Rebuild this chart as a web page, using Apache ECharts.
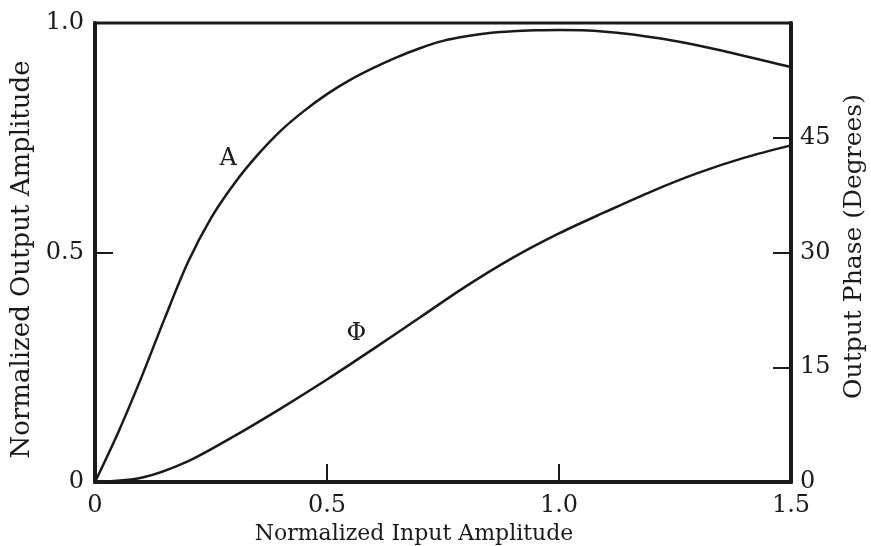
<!DOCTYPE html>
<html>
<head>
<meta charset="utf-8">
<script src="https://cdn.jsdelivr.net/npm/echarts@6/dist/echarts.min.js"></script>
<style>
  html, body { margin: 0; padding: 0; background: #fff; }
  #chart { width: 871px; height: 546px; }
</style>
</head>
<body>
<div id="chart"></div>
<script>
// values
var ampX = [0, 0.05, 0.1, 0.15, 0.2, 0.25, 0.3, 0.35, 0.4, 0.45, 0.5, 0.55, 0.6, 0.65, 0.7, 0.75,
            0.8, 0.85, 0.9, 0.95, 1.0, 1.05, 1.1, 1.15, 1.2, 1.25, 1.3, 1.35, 1.4, 1.45, 1.5];
var ampY = [0, 0.108, 0.228, 0.356, 0.478, 0.575, 0.65, 0.712, 0.765, 0.808, 0.845, 0.876, 0.902, 0.925, 0.945, 0.961,
            0.971, 0.978, 0.982, 0.984, 0.985, 0.984, 0.981, 0.976, 0.969, 0.961, 0.951, 0.94, 0.928, 0.916, 0.904];

var phaseX = [0, 0.1, 0.2, 0.3, 0.4, 0.5, 0.6, 0.7, 0.8, 0.9, 1.0, 1.1, 1.2, 1.3, 1.4, 1.5];
var phaseY = [0, 0.55, 2.7, 6.0, 9.6, 13.4, 17.4, 21.5, 25.6, 29.3, 32.5, 35.3, 38.0, 40.4, 42.4, 44.0];

// curve labels: [x, y]
var labelA = [0.287, 0.704];
var labelPhi = [0.563, 19.4];

var ink = '#1a1a1a';
var serif = 'DejaVu Serif';

function pairs(xs, ys) {
    var out = [];
    for (let i = 0; i < xs.length; i++) {
        out.push([xs[i], ys[i]]);
    }
    return out;
}

function tag(coord, text) {
    return {
        symbol: 'circle',
        symbolSize: 1,
        itemStyle: { color: 'rgba(0,0,0,0)' },
        label: { show: true, position: 'inside', formatter: text, color: ink, fontFamily: serif, fontSize: 24 },
        data: [{ coord: coord }]
    };
}

var chart = echarts.init(document.getElementById('chart'));

var option = {
    animation: false,
    backgroundColor: '#fff',
    grid: {
        left: 95, right: 80, top: 23, bottom: 64,
        outerBoundsMode: 'none',
        containLabel: false,
        show: true, borderColor: ink, borderWidth: 3
    },
    xAxis: {
        type: 'value',
        min: 0, max: 1.5, interval: 0.5,
        name: 'Normalized Input Amplitude',
        nameLocation: 'middle',
        nameGap: 33,
        nameTextStyle: { color: ink, fontFamily: serif, fontSize: 22, padding: [0, 58, 0, 0] },
        axisLine: { lineStyle: { color: ink, width: 4 } },
        axisTick: { inside: true, length: 18, lineStyle: { color: ink, width: 2 } },
        axisLabel: {
            color: ink, fontFamily: serif, fontSize: 24, margin: 12,
            formatter: function (v) { return v === 0 ? '0' : v.toFixed(1); }
        },
        splitLine: { show: false }
    },
    yAxis: [{
        type: 'value',
        min: 0, max: 1, interval: 0.5,
        name: 'Normalized Output Amplitude',
        nameLocation: 'middle',
        nameGap: 58,
        nameTextStyle: { color: ink, fontFamily: serif, fontSize: 26, padding: [0, 14, 0, 0] },
        axisLine: { show: true, lineStyle: { color: ink, width: 4 } },
        axisTick: { show: true, inside: true, length: 18, lineStyle: { color: ink, width: 2 } },
        axisLabel: {
            color: ink, fontFamily: serif, fontSize: 24, margin: 11,
            formatter: function (v) { return v === 0 ? '0' : v.toFixed(1); }
        },
        splitLine: { show: false }
    }, {
        type: 'value',
        position: 'right',
        min: 0, max: 60, interval: 15,
        name: 'Output Phase (Degrees)',
        nameLocation: 'middle',
        nameGap: 51,
        nameRotate: 90,
        nameTextStyle: { color: ink, fontFamily: serif, fontSize: 25, padding: [0, 0, 0, 12] },
        axisLine: { show: true, lineStyle: { color: ink, width: 4 } },
        axisTick: { show: true, inside: true, length: 18, lineStyle: { color: ink, width: 2 } },
        axisLabel: {
            color: ink, fontFamily: serif, fontSize: 24, margin: 9,
            formatter: function (v) { return v === 60 ? '' : String(v); }
        },
        splitLine: { show: false }
    }],
    series: [{
        name: 'A',
        type: 'line',
        yAxisIndex: 0,
        data: pairs(ampX, ampY),
        smooth: 0.3,
        showSymbol: false,
        lineStyle: { color: ink, width: 2.5 },
        markPoint: tag(labelA, 'A')
    }, {
        name: 'Phi',
        type: 'line',
        yAxisIndex: 1,
        data: pairs(phaseX, phaseY),
        smooth: 0.3,
        showSymbol: false,
        lineStyle: { color: ink, width: 2.5 },
        markPoint: tag(labelPhi, 'Φ')
    }]
};

chart.setOption(option);
</script>
</body>
</html>
